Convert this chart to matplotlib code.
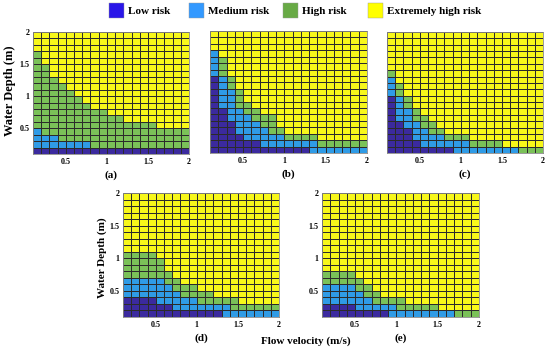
import numpy as np
import matplotlib as mpl
mpl.use('Agg')
import matplotlib.pyplot as plt
from matplotlib.colors import ListedColormap
from matplotlib.patches import Rectangle

# grid: 19 velocity cells x 19 depth cells, edges 0.1 .. 2.0
velocity_edges = np.round(np.linspace(0.1, 2.0, 20), 2)
depth_edges = np.round(np.linspace(0.1, 2.0, 20), 2)

# per velocity column: depth up to which each class reaches (low <= medium <= high, rest extremely high)
a_low_top = [0.2] * 19
a_med_top = [0.5, 0.4, 0.4, 0.3, 0.3, 0.3, 0.3, 0.2, 0.2, 0.2, 0.2, 0.2, 0.2, 0.2, 0.2, 0.2, 0.2, 0.2, 0.2]
a_high_top = [1.7, 1.5, 1.3, 1.2, 1.1, 1.0, 0.9, 0.8, 0.8, 0.7, 0.7, 0.6, 0.6, 0.6, 0.6, 0.5, 0.5, 0.5, 0.5]

b_low_top = [1.3, 0.8, 0.6, 0.4, 0.3, 0.3, 0.2, 0.2, 0.2, 0.2, 0.2, 0.2, 0.1, 0.1, 0.1, 0.1, 0.1, 0.1, 0.1]
b_med_top = [1.7, 1.3, 1.1, 0.8, 0.7, 0.6, 0.5, 0.4, 0.4, 0.3, 0.3, 0.3, 0.3, 0.2, 0.2, 0.2, 0.2, 0.2, 0.2]
b_high_top = [1.7, 1.6, 1.3, 1.1, 0.9, 0.8, 0.7, 0.7, 0.5, 0.4, 0.4, 0.4, 0.4, 0.3, 0.3, 0.3, 0.3, 0.3, 0.3]

c_low_top = [1.0, 0.6, 0.5, 0.3, 0.2, 0.2, 0.2, 0.2, 0.1, 0.1, 0.1, 0.1, 0.1, 0.1, 0.1, 0.1, 0.1, 0.1, 0.1]
c_med_top = [1.3, 1.0, 0.8, 0.6, 0.5, 0.4, 0.4, 0.3, 0.3, 0.3, 0.2, 0.2, 0.2, 0.2, 0.2, 0.2, 0.1, 0.1, 0.1]
c_high_top = [1.4, 1.2, 1.0, 0.8, 0.7, 0.6, 0.5, 0.4, 0.4, 0.4, 0.3, 0.3, 0.3, 0.3, 0.2, 0.2, 0.2, 0.2, 0.2]

d_low_top = [0.4, 0.4, 0.4, 0.4, 0.3, 0.3, 0.2, 0.2, 0.2, 0.2, 0.2, 0.2, 0.1, 0.1, 0.1, 0.1, 0.1, 0.1, 0.1]
d_med_top = [0.7, 0.7, 0.7, 0.7, 0.7, 0.6, 0.5, 0.4, 0.4, 0.3, 0.3, 0.3, 0.3, 0.2, 0.2, 0.2, 0.2, 0.2, 0.2]
d_high_top = [1.1, 1.1, 1.1, 1.1, 1.0, 0.8, 0.7, 0.6, 0.6, 0.5, 0.5, 0.4, 0.4, 0.4, 0.3, 0.3, 0.3, 0.3, 0.3]

e_low_top = [0.3, 0.3, 0.3, 0.3, 0.2, 0.2, 0.2, 0.2, 0.1, 0.1, 0.1, 0.1, 0.1, 0.1, 0.1, 0.1, 0.1, 0.1, 0.1]
e_med_top = [0.6, 0.6, 0.6, 0.6, 0.5, 0.4, 0.3, 0.3, 0.3, 0.2, 0.2, 0.2, 0.2, 0.2, 0.2, 0.2, 0.1, 0.1, 0.1]
e_high_top = [0.8, 0.8, 0.8, 0.8, 0.7, 0.6, 0.5, 0.4, 0.4, 0.4, 0.3, 0.3, 0.3, 0.3, 0.2, 0.2, 0.2, 0.2, 0.2]

risk_labels = ['Low risk', 'Medium risk', 'High risk', 'Extremely high risk']
cell_colors = ['#3b2a9e', '#2f9be6', '#7ac158', '#f7f71a']
legend_colors = ['#2a16e8', '#3399ff', '#68aa46', '#ffff00']

ticks = [0.5, 1, 1.5, 2]
tick_labels = ['0.5', '1', '1.5', '2']

serif = ['Liberation Serif', 'DejaVu Serif']


def risk_grid(low_top, med_top, high_top):
    tops = depth_edges[1:]
    grid = np.full((19, 19), 3)
    for j in range(19):
        col = np.full(19, 3)
        col[tops <= high_top[j] + 1e-6] = 2
        col[tops <= med_top[j] + 1e-6] = 1
        col[tops <= low_top[j] + 1e-6] = 0
        grid[:, j] = col
    return grid


panels = [
    ('(a)', [33, 32, 189, 154], a_low_top, a_med_top, a_high_top, True),
    ('(b)', [210, 31, 367, 153], b_low_top, b_med_top, b_high_top, False),
    ('(c)', [387, 32, 543, 153], c_low_top, c_med_top, c_high_top, False),
    ('(d)', [123, 193, 279, 317], d_low_top, d_med_top, d_high_top, True),
    ('(e)', [322, 193, 479, 317], e_low_top, e_med_top, e_high_top, True),
]

W, H = 550, 349
fig = plt.figure(figsize=(W / 100, H / 100), dpi=100)
cmap = ListedColormap(cell_colors)

for name, (x0, y0, x1, y1), lo, me, hi, ylab in panels:
    ax = fig.add_axes([x0 / W, 1 - y1 / H, (x1 - x0) / W, (y1 - y0) / H])
    grid = risk_grid(lo, me, hi)
    ax.pcolormesh(velocity_edges, depth_edges, grid, cmap=cmap, vmin=-0.5, vmax=3.5,
                  edgecolors='#2b2b2b', linewidth=0.45)
    ax.set_xlim(0.1, 2.0)
    ax.set_ylim(0.1, 2.0)
    ax.set_xticks(ticks)
    ax.set_xticklabels(tick_labels)
    ax.set_yticks(ticks)
    ax.set_yticklabels(tick_labels if ylab else [])
    ax.tick_params(length=0, pad=3, labelsize=5.8)
    ax.tick_params(axis='y', pad=2.5)
    for lab in ax.get_xticklabels() + ax.get_yticklabels():
        lab.set_family(serif)
        lab.set_fontweight('bold')
    for sp in ax.spines.values():
        sp.set_color('#888888')
        sp.set_linewidth(0.6)
    fig.text((x0 + x1) / 2 / W, 1 - (y1 + 21) / H, name, ha='center', va='center',
             family=serif, fontweight='bold', fontsize=8)

fig.text(10.5 / W, 1 - 91 / H, 'Water Depth (m)', rotation=90, ha='center', va='center',
         family=serif, fontweight='bold', fontsize=9)
fig.text(102 / W, 1 - 258 / H, 'Water Depth (m)', rotation=90, ha='center', va='center',
         family=serif, fontweight='bold', fontsize=8)
fig.text(306 / W, 1 - 341 / H, 'Flow velocity (m/s)', ha='center', va='center',
         family=serif, fontweight='bold', fontsize=8)

# legend strip at the top
patch_x = [109, 189, 283, 368]
for px, col, lab in zip(patch_x, legend_colors, risk_labels):
    fig.patches.append(Rectangle((px / W, 1 - 17.5 / H), 15 / W, 14.5 / H,
                                 transform=fig.transFigure, facecolor=col,
                                 edgecolor='#999999', linewidth=0.3))
    fig.text((px + 19) / W, 1 - 11 / H, lab, ha='left', va='center',
             family=serif, fontweight='bold', fontsize=8)

fig.savefig('out.png', dpi=100)
